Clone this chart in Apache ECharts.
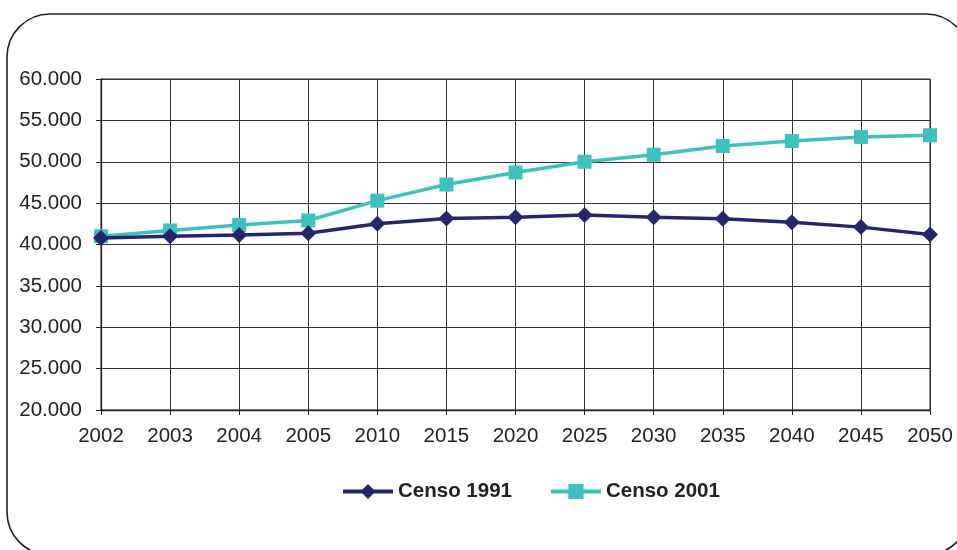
<!DOCTYPE html>
<html>
<head>
<meta charset="utf-8">
<script src="https://cdn.jsdelivr.net/npm/echarts@6/dist/echarts.min.js"></script>
<style>
  html, body { margin: 0; padding: 0; background: #fff; }
  #chart { width: 957px; height: 550px; }
</style>
</head>
<body>
<div id="chart"></div>
<script>
// Years on the horizontal axis
const years = ['2002', '2003', '2004', '2005', '2010', '2015', '2020', '2025', '2030', '2035', '2040', '2045', '2050'];
// Population projections by census basis
const censo1991 = [40800, 41000, 41150, 41350, 42500, 43150, 43300, 43550, 43300, 43100, 42700, 42100, 41200];
const censo2001 = [41000, 41700, 42350, 42900, 45300, 47250, 48700, 50000, 50850, 51900, 52500, 53000, 53200];
const seriesNames = ['Censo 1991', 'Censo 2001'];

const navy = '#26266f';
const teal = '#3cc1c1';
const font = '"Liberation Sans", Arial, sans-serif';
const fs = 20.5;

const chart = echarts.init(document.getElementById('chart'));
chart.setOption({
  animation: false,
  backgroundColor: '#fff',
  graphic: [{
    type: 'rect',
    shape: { x: 7, y: 14, width: 962, height: 541, r: 43 },
    style: { fill: 'none', stroke: '#222', lineWidth: 1.6 },
    z: -1
  }],
  grid: { left: 101, right: 27, top: 79, bottom: 140, show: true, borderColor: '#222', borderWidth: 1 },
  legend: {
    data: seriesNames,
    top: 476,
    left: 336,
    itemWidth: 50,
    itemHeight: 19,
    itemGap: 37,
    lineStyle: { width: 4 },
    textStyle: { fontFamily: font, fontSize: fs, fontWeight: 'bold', color: '#222' }
  },
  xAxis: {
    type: 'category',
    data: years,
    boundaryGap: false,
    axisLine: { lineStyle: { color: '#222', width: 1.3 } },
    axisTick: { show: true, length: 5, lineStyle: { color: '#222' } },
    axisLabel: { fontFamily: font, fontSize: fs, color: '#222', margin: 16 },
    splitLine: { show: true, lineStyle: { color: '#333', width: 1 } }
  },
  yAxis: {
    type: 'value',
    min: 20000,
    max: 60000,
    interval: 5000,
    axisLine: { show: true, lineStyle: { color: '#222', width: 1.3 } },
    axisTick: { show: true, length: 5, lineStyle: { color: '#222' } },
    axisLabel: {
      fontFamily: font, fontSize: fs, color: '#222', margin: 19,
      formatter: v => String(v).replace(/\B(?=(\d{3})+(?!\d))/g, '.')
    },
    splitLine: { show: true, lineStyle: { color: '#333', width: 1 } }
  },
  series: [
    {
      name: seriesNames[0],
      type: 'line',
      data: censo1991,
      symbol: 'diamond',
      symbolSize: 16,
      itemStyle: { color: navy },
      lineStyle: { color: navy, width: 3.5 },
      z: 3
    },
    {
      name: seriesNames[1],
      type: 'line',
      data: censo2001,
      symbol: 'rect',
      symbolSize: 14,
      itemStyle: { color: teal },
      lineStyle: { color: teal, width: 3.5 },
      z: 2
    }
  ]
});
</script>
</body>
</html>
